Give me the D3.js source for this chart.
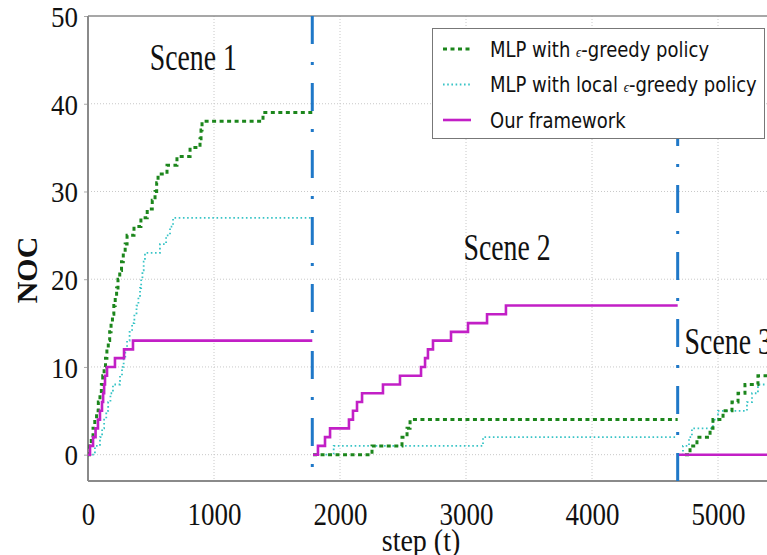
<!DOCTYPE html>
<html>
<head>
<meta charset="utf-8">
<script src="https://cdn.jsdelivr.net/npm/d3@7"></script>
<style>
  html, body { margin: 0; padding: 0; background: #fff; }
  svg { display: block; }
</style>
</head>
<body>
<svg id="chart" width="767" height="555"></svg>
<script>
// ---------- data ----------
const xTicks = [0, 1000, 2000, 3000, 4000, 5000];
const yTicks = [0, 10, 20, 30, 40, 50];
const sceneBoundaries = [1780, 4680];
const sceneLabels = ["Scene 1", "Scene 2", "Scene 3"];
const seriesNames = ["MLP with ", "MLP with local ", "Our framework"];

// MLP with e-greedy policy (green), one array per scene: [step, NOC]
const greedyScene1 = [[0,0],[12,1],[26,2],[40,3],[54,4],[68,5],[82,6],[95,7],[106,8],[117,9],[128,10],[139,11],[150,12],[161,13],[172,14],[183,15],[194,16],[205,17],[216,18],[227,19],[238,20],[252,21],[266,22],[280,23],[295,24],[310,25],[365,26],[420,27],[470,28],[510,29],[532,30],[545,31],[556,32],[627,33],[706,34],[810,35],[889,36],[897,37],[905,38],[1389,39],[1780,39]];
const greedyScene2 = [[1786,0],[2254,1],[2492,2],[2532,3],[2556,4],[4680,4]];
const greedyScene3 = [[4738,0],[4778,1],[4833,2],[4937,3],[4960,4],[5040,5],[5111,6],[5159,7],[5214,8],[5317,9],[5600,9]];

// MLP with local e-greedy policy (cyan)
const localScene1 = [[0,0],[55,1],[95,2],[112,3],[128,4],[145,5],[160,6],[178,7],[198,8],[254,9],[270,10],[283,11],[296,12],[310,13],[330,14],[350,15],[368,16],[385,17],[400,18],[413,19],[422,20],[432,21],[442,22],[452,23],[571,24],[620,25],[651,26],[675,27],[1780,27]];
const localScene2 = [[1786,0],[1950,1],[3135,2],[4680,2]];
const localScene3 = [[4680,0],[4722,1],[4770,2],[4793,3],[4960,4],[5000,5],[5230,6],[5270,7],[5317,8],[5600,8]];

// Our framework (magenta)
const oursScene1 = [[0,0],[16,1],[40,2],[60,3],[79,4],[95,5],[111,6],[120,7],[128,8],[135,9],[151,10],[214,11],[286,12],[357,13],[1780,13]];
const oursScene2 = [[1786,0],[1825,1],[1881,2],[1921,3],[2071,4],[2103,5],[2135,6],[2175,7],[2341,8],[2476,9],[2643,10],[2675,11],[2698,12],[2738,13],[2881,14],[3016,15],[3167,16],[3317,17],[4680,17]];
const oursScene3 = [[4680,0],[5600,0]];

// ---------- drawing ----------
const svg = d3.select("#chart");
const pL = 88, pT = 16, pB = 481, pR = 767;
const x = d3.scaleLinear().domain([0, 5600]).range([pL, pL + 5.6 * 126]);
const y = d3.scaleLinear().domain([-3, 50]).range([pB, pT]);

const colors = { greedy: "#1c861c", local: "#38c4c6", ours: "#c21fc6", scene: "#1f78c8" };
const serif = "Liberation Serif, Times New Roman, serif";

svg.append("defs").append("clipPath").attr("id", "plotclip")
  .append("rect").attr("x", pL).attr("y", pT).attr("width", pR - pL).attr("height", pB - pT);

// grid
const grid = svg.append("g");
grid.selectAll("line.vx").data(xTicks.filter(d => d > 0)).join("line")
  .attr("x1", d => x(d)).attr("x2", d => x(d)).attr("y1", pT).attr("y2", pB)
  .attr("stroke", "#c8c8c8").attr("stroke-width", 1).attr("stroke-dasharray", "1,2");
grid.selectAll("line.hy").data(yTicks.filter(d => d < 50)).join("line")
  .attr("x1", pL).attr("x2", pR).attr("y1", d => y(d)).attr("y2", d => y(d))
  .attr("stroke", "#c8c8c8").attr("stroke-width", 1).attr("stroke-dasharray", "1,2");

// axes via d3
const xAxis = d3.axisBottom(x).tickValues(xTicks).tickSize(0).tickPadding(0).tickFormat(d3.format("d"));
const gx = svg.append("g").attr("transform", `translate(0,${pB})`).call(xAxis);
gx.select(".domain").remove();
gx.selectAll("text").attr("font-family", serif)
  .attr("font-size", 27).attr("fill", "#111").attr("dy", 0).attr("y", 0)
  .attr("transform", "translate(0,44) scale(1,1.15)");

const yAxis = d3.axisLeft(y).tickValues(yTicks).tickSize(4).tickPadding(6);
const gy = svg.append("g").attr("transform", `translate(${pL},0)`).call(yAxis);
gy.select(".domain").remove();
gy.selectAll(".tick line").attr("stroke", "#aaa");
gy.selectAll("text").attr("font-family", serif)
  .attr("font-size", 27).attr("fill", "#111").attr("dy", "0.34em")
  .attr("transform", "scale(1,1.12)");

// frame lines
svg.append("line").attr("x1", pL).attr("x2", pL).attr("y1", pT).attr("y2", pB)
  .attr("stroke", "#8a8a8a").attr("stroke-width", 2);
svg.append("line").attr("x1", pL).attr("x2", pR).attr("y1", pB).attr("y2", pB)
  .attr("stroke", "#8a8a8a").attr("stroke-width", 2);
svg.append("line").attr("x1", pL).attr("x2", pR).attr("y1", pT).attr("y2", pT)
  .attr("stroke", "#8a8a8a").attr("stroke-width", 1.5);

// series
const plot = svg.append("g").attr("clip-path", "url(#plotclip)");
const line = d3.line().x(d => x(d[0])).y(d => y(d[1])).curve(d3.curveStepAfter);

const series = [
  { data: [localScene1, localScene2, localScene3], color: colors.local, width: 1.8, dash: "1.6,2.6" },
  { data: [greedyScene1, greedyScene2, greedyScene3], color: colors.greedy, width: 3, dash: "4,3.5" },
  { data: [oursScene1, oursScene2, oursScene3], color: colors.ours, width: 2.6, dash: null }
];
series.forEach(s => {
  s.data.forEach(seg => {
    plot.append("path").datum(seg).attr("d", line)
      .attr("fill", "none").attr("stroke", s.color).attr("stroke-width", s.width)
      .attr("stroke-dasharray", s.dash);
  });
});

// scene boundaries (dash-dot)
plot.append("line").attr("x1", x(sceneBoundaries[0])).attr("x2", x(sceneBoundaries[0]))
  .attr("y1", pT).attr("y2", pB)
  .attr("stroke", colors.scene).attr("stroke-width", 3).attr("stroke-dasharray", "28,18,3,18");
plot.append("line").attr("x1", x(sceneBoundaries[1])).attr("x2", x(sceneBoundaries[1]))
  .attr("y1", pB).attr("y2", pT)
  .attr("stroke", colors.scene).attr("stroke-width", 3).attr("stroke-dasharray", "28,18,3,18");

// scene labels
const sceneLabelPos = [[490, 43.8], [2980, 22.2], [4735, 11.5]];
sceneLabels.forEach((t, i) => {
  const px = x(sceneLabelPos[i][0]), py = y(sceneLabelPos[i][1]);
  svg.append("text").attr("transform", `translate(${px},${py}) scale(1,1.33)`)
    .attr("font-family", serif).attr("font-size", 27.8)
    .attr("fill", "#111").text(t);
});

// axis titles
svg.append("text").attr("transform", "translate(421,551) scale(1,1.1)")
  .attr("text-anchor", "middle").attr("font-family", serif)
  .attr("font-size", 28).attr("fill", "#111").text("step (t)");
svg.append("text").attr("transform", "translate(37,270) rotate(-90)")
  .attr("text-anchor", "middle").attr("font-family", serif)
  .attr("font-weight", "bold").attr("font-size", 30).attr("fill", "#111").text("NOC");

// legend
const lg = svg.append("g");
lg.append("rect").attr("x", 432.5).attr("y", 28.5).attr("width", 332).attr("height", 110)
  .attr("fill", "#fff").attr("stroke", "#777").attr("stroke-width", 1);
const legendRows = [
  { name: seriesNames[0], eps: true, tail: "-greedy policy", color: colors.greedy, width: 3, dash: "4,3.5" },
  { name: seriesNames[1], eps: true, tail: "-greedy policy", color: colors.local, width: 1.8, dash: "1.6,2.6" },
  { name: seriesNames[2], eps: false, tail: "", color: colors.ours, width: 2.6, dash: null }
];
legendRows.forEach((r, i) => {
  const cy = 49 + i * 35.5;
  lg.append("line").attr("x1", 443).attr("x2", 471).attr("y1", cy).attr("y2", cy)
    .attr("stroke", r.color).attr("stroke-width", r.width).attr("stroke-dasharray", r.dash);
  const t = lg.append("text").attr("transform", `translate(490,${cy + 7.5}) scale(1,1.2)`)
    .attr("font-family", "DejaVu Sans, sans-serif").attr("font-size", 18).attr("fill", "#111");
  t.append("tspan").text(r.name);
  if (r.eps) {
    t.append("tspan").attr("font-family", serif).attr("font-style", "italic")
      .attr("font-size", 13).text("\u03F5");
    t.append("tspan").text(r.tail);
  }
});
</script>
</body>
</html>
